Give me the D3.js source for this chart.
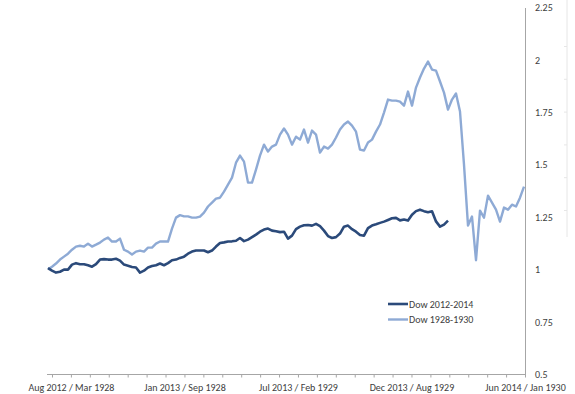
<!DOCTYPE html>
<html lang="en">
<head>
  <meta charset="UTF-8">
  <title>Dow 2012-2014 vs Dow 1928-1930</title>
  <script src="https://d3js.org/d3.v7.min.js"></script>
  <style>
    body { margin: 0; background: #fff; }
    svg text { font-family: Carlito, Lato, "Open Sans", sans-serif; fill: #404040; }
  </style>
</head>
<body>
  <svg id="chart" width="575" height="394"></svg>
  <script>
    // normalised index values, one reading every ~4 px of the plot
    const dow1928 = [
      1.002, 1.014, 1.029, 1.048, 1.062, 1.076, 1.095, 1.110, 1.114, 1.110,
      1.124, 1.110, 1.119, 1.129, 1.143, 1.153, 1.134, 1.134, 1.148, 1.095,
      1.086, 1.072, 1.086, 1.091, 1.086, 1.105, 1.105, 1.124, 1.134, 1.134,
      1.134, 1.196, 1.248, 1.260, 1.254, 1.254, 1.248, 1.248, 1.253, 1.272,
      1.301, 1.320, 1.339, 1.343, 1.372, 1.405, 1.439, 1.510, 1.544, 1.515,
      1.415, 1.415, 1.477, 1.544, 1.596, 1.563, 1.587, 1.596, 1.644, 1.673,
      1.644, 1.596, 1.634, 1.620, 1.668, 1.606, 1.663, 1.644, 1.558, 1.587,
      1.577, 1.596, 1.630, 1.668, 1.692, 1.706, 1.687, 1.658, 1.572, 1.568,
      1.606, 1.620, 1.658, 1.692, 1.749, 1.811, 1.806, 1.806, 1.801, 1.782,
      1.849, 1.782, 1.868, 1.916, 1.959, 1.992, 1.954, 1.949, 1.897, 1.844,
      1.763, 1.811, 1.840, 1.754, 1.501, 1.210, 1.253, 1.045, 1.281, 1.248,
      1.353, 1.320, 1.286, 1.229, 1.296, 1.286, 1.310, 1.301, 1.343, 1.396
    ];
    const dow2012 = [
      1.007, 0.995, 0.986, 0.990, 1.000, 1.000, 1.024, 1.031, 1.026, 1.026,
      1.021, 1.014, 1.026, 1.048, 1.050, 1.048, 1.048, 1.052, 1.043, 1.024,
      1.019, 1.013, 1.010, 0.986, 0.995, 1.010, 1.017, 1.021, 1.029, 1.021,
      1.031, 1.045, 1.048, 1.056, 1.062, 1.076, 1.086, 1.091, 1.091, 1.091,
      1.083, 1.091, 1.110, 1.127, 1.130, 1.134, 1.135, 1.138, 1.151, 1.136,
      1.143, 1.155, 1.167, 1.181, 1.191, 1.196, 1.186, 1.183, 1.179, 1.181,
      1.148, 1.162, 1.193, 1.205, 1.212, 1.213, 1.210, 1.218, 1.207, 1.186,
      1.160, 1.151, 1.155, 1.172, 1.205, 1.210, 1.193, 1.181, 1.165, 1.162,
      1.198, 1.210, 1.216, 1.223, 1.229, 1.237, 1.245, 1.247, 1.235, 1.239,
      1.234, 1.262, 1.279, 1.286, 1.279, 1.274, 1.278, 1.230, 1.205, 1.215,
      1.234
    ];
    const seriesNames = ["Dow 2012-2014", "Dow 1928-1930"];
    const seriesColors = ["#2b4a7a", "#8eaad5"];
    const monthTickCount = 26;
    const tickLabels = {
      1: "Aug 2012 / Mar 1928",
      7: "Jan 2013 / Sep 1928",
      13: "Jul 2013 / Feb 1929",
      19: "Dec 2013 / Aug 1929",
      25: "Jun 2014 / Jan 1930"
    };
    const yTicks = [0.5, 0.75, 1, 1.25, 1.5, 1.75, 2, 2.25];

    const svg = d3.select("#chart");

    const x = d3.scaleLinear().domain([0, dow1928.length - 1]).range([48, 524]);
    const xMonths = d3.scaleLinear().domain([0, monthTickCount - 1]).range([52, 525]);
    const y = d3.scaleLinear().domain([0.5, 2.25]).range([374.5, 7.5]);

    // faint edge of a neighbouring chart on the far right
    const ghost = d3.scaleLinear().domain([0, 5]).range([210, 46]);
    const ghostAxis = svg.append("g")
      .attr("transform", "translate(567,0)")
      .call(d3.axisLeft(ghost).ticks(5).tickSize(3).tickFormat(""));
    ghostAxis.select(".domain").remove();
    ghostAxis.selectAll("line").attr("stroke", "#e6e6e6");
    svg.append("line")
      .attr("x1", 567).attr("x2", 567).attr("y1", 0).attr("y2", 237)
      .attr("stroke", "#e6e6e6");

    // x axis
    const xAxis = svg.append("g")
      .attr("transform", `translate(0,${y(0.5)})`)
      .call(d3.axisBottom(xMonths)
        .tickValues(d3.range(monthTickCount))
        .tickSize(3)
        .tickPadding(6)
        .tickFormat(k => tickLabels[k] || ""));
    xAxis.select(".domain").remove();
    xAxis.selectAll("line").attr("stroke", "#a6a6a6");
    xAxis.selectAll("text").style("font-size", "10px");
    svg.append("line")
      .attr("x1", 47).attr("x2", 525)
      .attr("y1", y(0.5)).attr("y2", y(0.5))
      .attr("stroke", "#a6a6a6");

    // right y axis
    const yAxis = svg.append("g")
      .attr("transform", "translate(525,0)")
      .call(d3.axisRight(y).tickValues(yTicks).tickSize(0).tickPadding(10).tickFormat(d3.format("")));
    yAxis.select(".domain").attr("stroke", "#a6a6a6");
    yAxis.selectAll("text").style("font-size", "10px");

    const line = d3.line()
      .x((d, i) => x(i))
      .y(d => y(d));

    svg.append("path")
      .datum(dow1928)
      .attr("fill", "none")
      .attr("stroke", seriesColors[1])
      .attr("stroke-width", 2.4)
      .attr("stroke-linejoin", "round")
      .attr("d", line);

    svg.append("path")
      .datum(dow2012)
      .attr("fill", "none")
      .attr("stroke", seriesColors[0])
      .attr("stroke-width", 2.6)
      .attr("stroke-linejoin", "round")
      .attr("d", line);

    // legend
    const legend = svg.append("g").attr("transform", "translate(388,304)");
    const rows = legend.selectAll("g")
      .data(seriesNames)
      .enter().append("g")
      .attr("transform", (d, i) => `translate(0,${i * 15.5})`);
    rows.append("line")
      .attr("x1", 0).attr("x2", 20)
      .attr("stroke", (d, i) => seriesColors[i])
      .attr("stroke-width", (d, i) => i === 0 ? 2.6 : 2.4);
    rows.append("text")
      .attr("x", 21)
      .attr("dy", "0.35em")
      .style("font-size", "10px")
      .text(d => d);
  </script>
</body>
</html>
